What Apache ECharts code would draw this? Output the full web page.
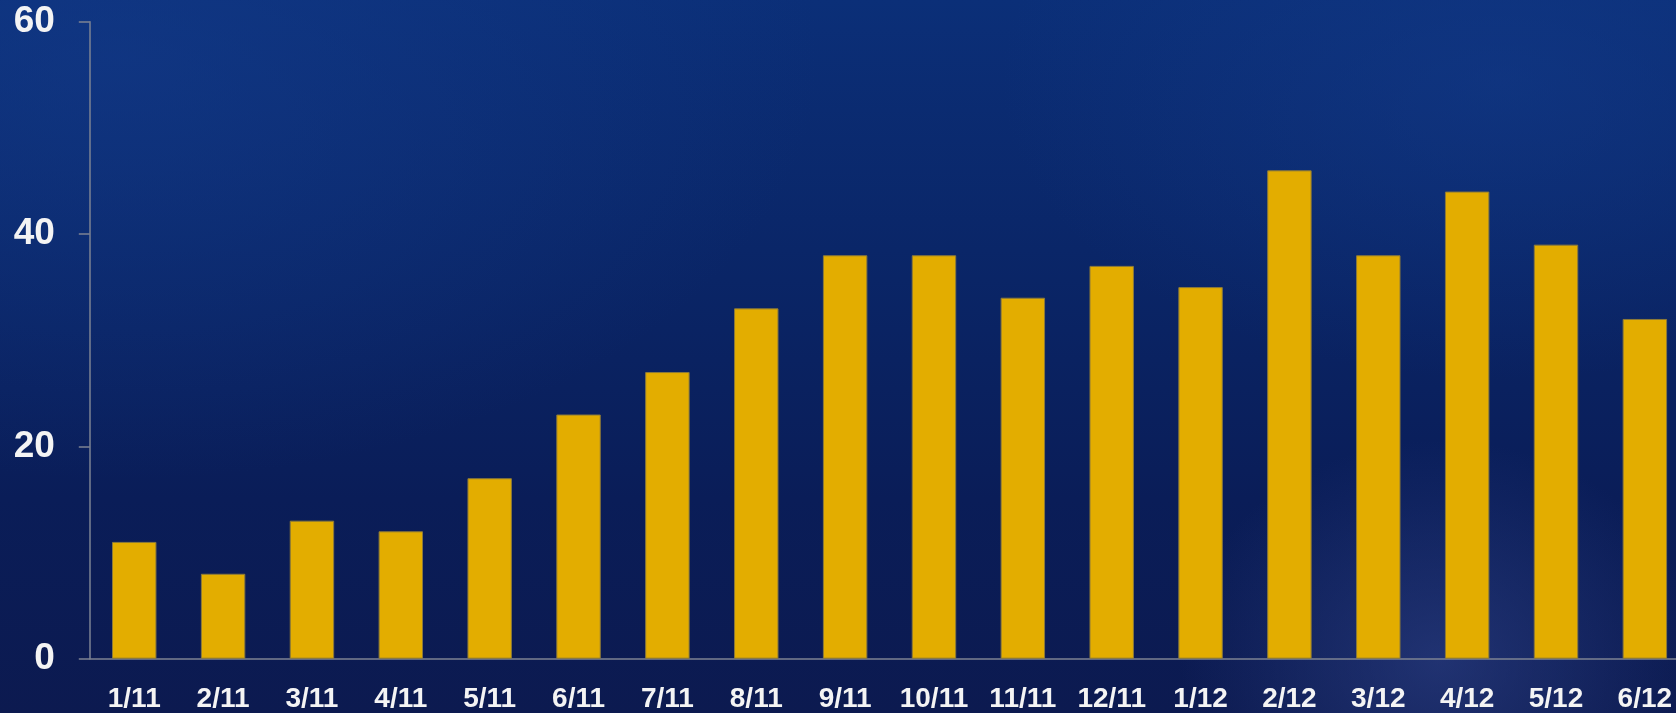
<!DOCTYPE html>
<html>
<head>
<meta charset="utf-8">
<script src="https://cdn.jsdelivr.net/npm/echarts@6/dist/echarts.min.js"></script>
<style>
html,body{margin:0;padding:0;}
body{width:1676px;height:713px;overflow:hidden;
background:
 radial-gradient(ellipse 260px 220px at 1440px 660px, rgba(50,70,140,0.55), rgba(50,70,140,0) 100%),
 radial-gradient(ellipse 700px 420px at 120px 60px, rgba(20,60,140,0.55), rgba(20,60,140,0) 100%),
 radial-gradient(ellipse 500px 300px at 1500px 80px, rgba(20,60,140,0.5), rgba(20,60,140,0) 100%),
 linear-gradient(180deg, #0b2f78 0%, #0a2668 35%, #0a1d58 70%, #0c1a50 100%);}
#main{width:1676px;height:713px;}
</style>
</head>
<body>
<div id="main"></div>
<script>
const categories = ['1/11','2/11','3/11','4/11','5/11','6/11','7/11','8/11','9/11','10/11','11/11','12/11','1/12','2/12','3/12','4/12','5/12','6/12'];
const values = [11, 8, 13, 12, 17, 23, 27, 33, 38, 38, 34, 37, 35, 46, 38, 44, 39, 32];
const yTicks = [0, 20, 40, 60];

const chart = echarts.init(document.getElementById('main'), null, {renderer: 'canvas'});
chart.setOption({
  backgroundColor: 'transparent',
  animation: false,
  grid: {left: 89.8, top: 21.7, width: 1599.5, height: 637, containLabel: false, outerBoundsMode: 'none'},
  xAxis: {
    type: 'category',
    data: categories,
    axisLine: {show: true, lineStyle: {color: '#7d8393', width: 1.5}},
    axisTick: {show: false},
    axisLabel: {color: '#f4f4f4', fontSize: 28, fontWeight: 'bold', fontFamily: 'Liberation Sans, Arial, sans-serif', margin: 27, interval: 0}
  },
  yAxis: {
    type: 'value',
    min: yTicks[0],
    max: yTicks[yTicks.length - 1],
    interval: 20,
    splitLine: {show: false},
    axisLine: {show: true, lineStyle: {color: '#7d8393', width: 1.5}},
    axisTick: {show: true, length: 11, lineStyle: {color: '#7d8393', width: 1.5}},
    axisLabel: {color: '#f4f4f4', fontSize: 37, fontWeight: 'bold', fontFamily: 'Liberation Sans, Arial, sans-serif', margin: 35}
  },
  series: [{
    type: 'bar',
    data: values,
    barWidth: '50%',
    itemStyle: {color: '#e3ad00', borderColor: '#8c7a3a', borderWidth: 1}
  }]
});
</script>
</body>
</html>
